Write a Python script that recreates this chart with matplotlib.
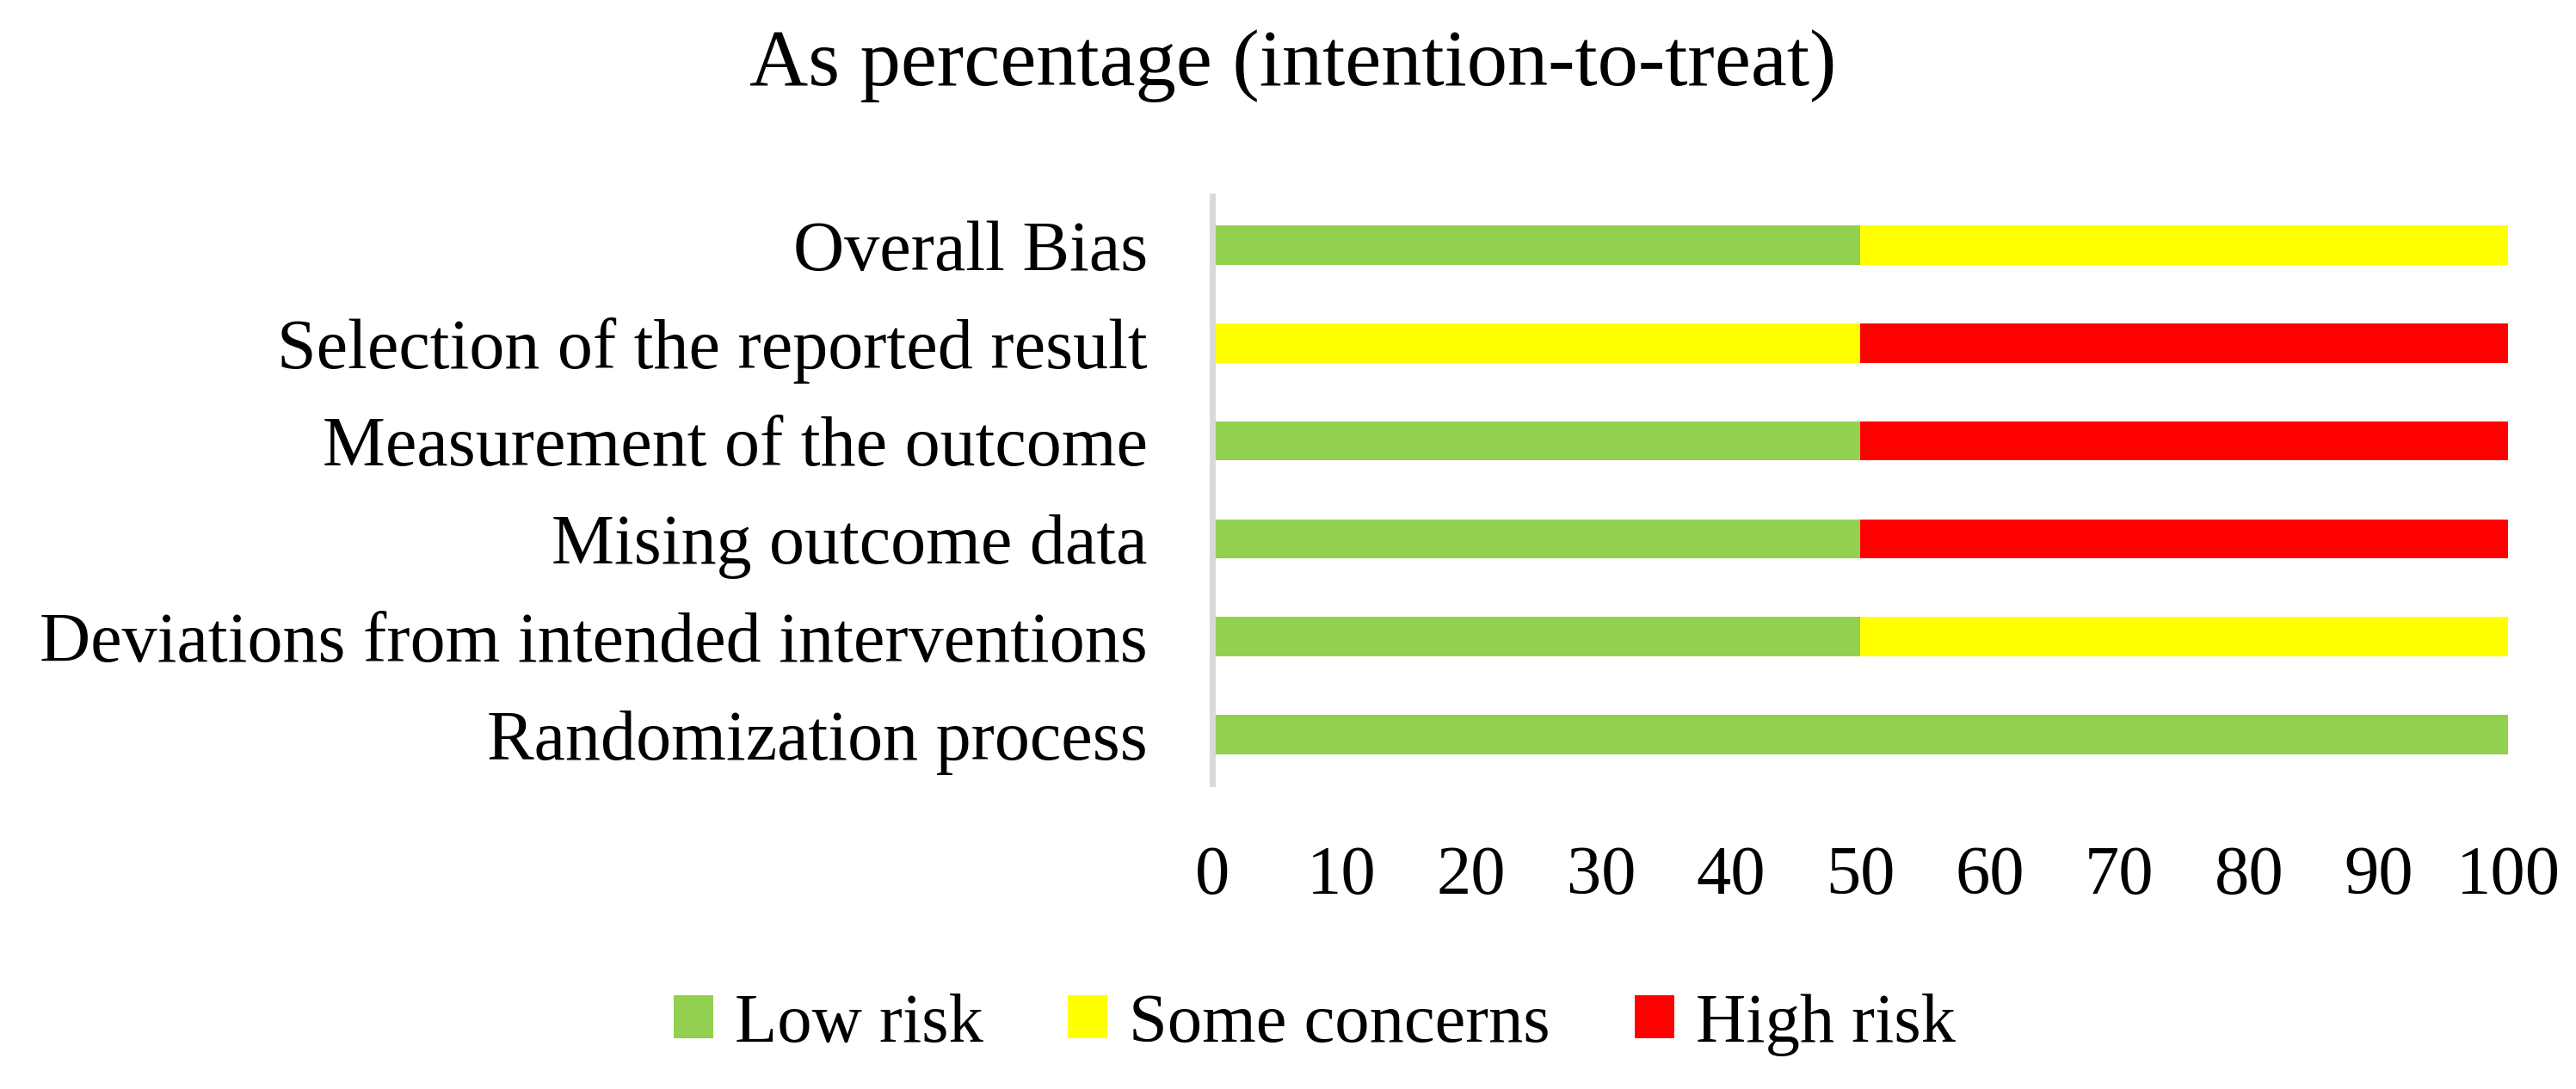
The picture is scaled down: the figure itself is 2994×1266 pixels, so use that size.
import matplotlib
matplotlib.use('Agg')
import matplotlib.pyplot as plt
import numpy as np

# domains, bottom to top as drawn
domains = ['Randomization process',
           'Deviations from intended interventions',
           'Mising outcome data',
           'Measurement of the outcome',
           'Selection of the reported result',
           'Overall Bias']

low_risk = [100, 50, 50, 50, 0, 50]
some_concerns = [0, 50, 0, 0, 50, 50]
high_risk = [0, 0, 50, 50, 50, 0]

x_ticks = [0, 10, 20, 30, 40, 50, 60, 70, 80, 90, 100]

plt.rcParams['font.family'] = ['Liberation Serif', 'DejaVu Serif']

fig = plt.figure(figsize=(29.94, 12.66), dpi=100)
ax = fig.add_axes([0.4706, 0.2804, 0.5030, 0.5395])

y = np.arange(len(domains))
low = np.array(low_risk)
some = np.array(some_concerns)
high = np.array(high_risk)

ax.barh(y, low, height=0.4, color='#92D050', label='Low risk')
ax.barh(y, some, height=0.4, left=low, color='#FFFF00', label='Some concerns')
ax.barh(y, high, height=0.4, left=low + some, color='#FF0000', label='High risk')

ax.set_xlim(0, 100)
ax.set_ylim(-0.5, len(domains) - 0.5)
ax.set_xticks(x_ticks)
ax.set_yticks(y)
ax.set_yticklabels(domains)

for s in ['top', 'right', 'bottom']:
    ax.spines[s].set_visible(False)
ax.spines['left'].set_color('#D9D9D9')
ax.spines['left'].set_linewidth(5)

ax.tick_params(axis='x', length=0, labelsize=58, pad=52)
ax.tick_params(axis='y', length=0, labelsize=59, pad=54)

fig.text(0.502, 0.9218, 'As percentage (intention-to-treat)', ha='center',
         va='baseline', fontsize=68)

fig.legend(loc='center', bbox_to_anchor=(0.5104, 0.059), ncol=3,
           frameon=False, fontsize=58, handlelength=0.57, handleheight=0.58,
           handletextpad=0.31, columnspacing=1.22, borderaxespad=0)

plt.savefig('out.png', dpi=100)
